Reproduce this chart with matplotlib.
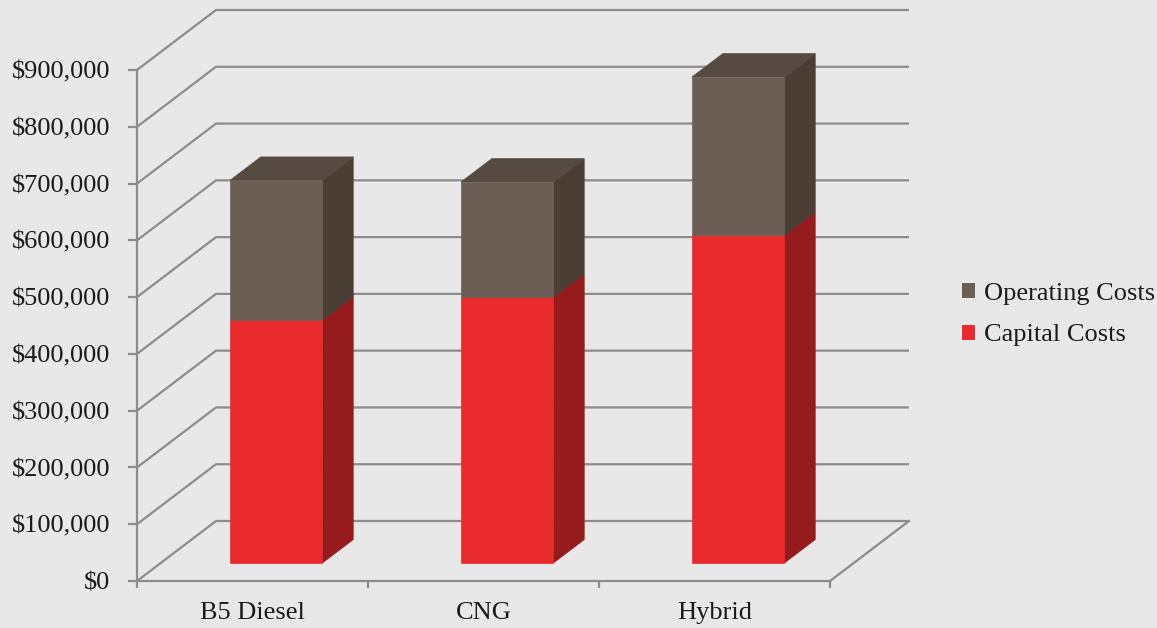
import matplotlib.pyplot as plt
from matplotlib.patches import Polygon, Patch
from matplotlib.ticker import FuncFormatter

categories = ["B5 Diesel", "CNG", "Hybrid"]
capital_costs = [428000, 468000, 577000]
operating_costs = [246000, 203000, 279000]
y_ticks = list(range(0, 900001, 100000))

# colours
cap_front, cap_side = "#e92b2d", "#951b1c"
op_front, op_side, op_top = "#6d5e55", "#4a3e35", "#574a43"
grid_c = "#8c8c8c"
bg = "#e8e8e8"

plt.rcParams['font.family'] = ['Liberation Serif', 'DejaVu Serif']

fig = plt.figure(figsize=(11.57, 6.28), dpi=100)
fig.patch.set_facecolor(bg)
ax = fig.add_axes([137 / 1157, 47 / 628, 693 / 1157, 511 / 628])
ax.set_facecolor("none")
ax.set_xlim(0, 3)
ax.set_ylim(0, 900000)

# oblique depth offset (full floor depth) in data units
DX = 79 / 231.0
DY = 60 / (511 / 900000.0)

# back wall / floor grid
for v in y_ticks:
    ax.plot([0, DX, 3 + DX], [v, v + DY, v + DY], color=grid_c, lw=1.6,
            clip_on=False, zorder=1, solid_capstyle='butt')
ax.plot([3, 3 + DX], [0, DY], color=grid_c, lw=1.6, clip_on=False, zorder=1)

# bars
d0, d1 = 0.30, 0.69   # bar depth position (fraction of floor depth)
w0, w1 = 0.30, 0.70   # bar width inside the slot


def box(i, lo, hi, front, side, top=None):
    x0 = i + w0 + d0 * DX
    x1 = i + w1 + d0 * DX
    y_lo = lo + d0 * DY
    y_hi = hi + d0 * DY
    bx = (d1 - d0) * DX
    by = (d1 - d0) * DY
    ax.add_patch(Polygon([(x1, y_lo), (x1 + bx, y_lo + by), (x1 + bx, y_hi + by), (x1, y_hi)],
                         closed=True, fc=side, ec=side, lw=0.5, clip_on=False, zorder=3))
    if top is not None:
        ax.add_patch(Polygon([(x0, y_hi), (x1, y_hi), (x1 + bx, y_hi + by), (x0 + bx, y_hi + by)],
                             closed=True, fc=top, ec=top, lw=0.5, clip_on=False, zorder=3))
    ax.add_patch(Polygon([(x0, y_lo), (x1, y_lo), (x1, y_hi), (x0, y_hi)],
                         closed=True, fc=front, ec=front, lw=0.5, clip_on=False, zorder=4))


for i in range(len(categories)):
    c = capital_costs[i]
    o = operating_costs[i]
    box(i, 0, c, cap_front, cap_side)
    box(i, c, c + o, op_front, op_side, op_top)

# axes styling
for s in ['top', 'right']:
    ax.spines[s].set_visible(False)
for s in ['left', 'bottom']:
    ax.spines[s].set_color(grid_c)
    ax.spines[s].set_linewidth(1.6)
    ax.spines[s].set_zorder(2)

ax.set_yticks(y_ticks)
ax.yaxis.set_major_formatter(FuncFormatter(lambda v, p: "${:,.0f}".format(v)))
ax.tick_params(axis='y', length=6.5, width=1.6, color=grid_c, pad=13,
               labelsize=19, labelcolor="#1a1a1a")

ax.set_xticks([0, 1, 2, 3])
ax.set_xticklabels([])
ax.set_xticks([0.5, 1.5, 2.5], minor=True)
ax.set_xticklabels(categories, minor=True)
ax.tick_params(axis='x', which='major', length=5, width=1.6, color=grid_c)
ax.tick_params(axis='x', which='minor', length=0, pad=15, labelsize=19, labelcolor="#1a1a1a")

handles = [Patch(fc=op_front, ec='none', label="Operating Costs"),
           Patch(fc=cap_front, ec='none', label="Capital Costs")]
leg = fig.legend(handles=handles, loc='center left', bbox_to_anchor=(962 / 1157, 1 - 314.5 / 628),
                 frameon=False, fontsize=19, handlelength=0.5, handleheight=0.5,
                 handletextpad=0.32, labelspacing=0.75, borderpad=0, borderaxespad=0)
for t in leg.get_texts():
    t.set_color("#1a1a1a")

fig.savefig("out.png", dpi=100, facecolor=bg)
